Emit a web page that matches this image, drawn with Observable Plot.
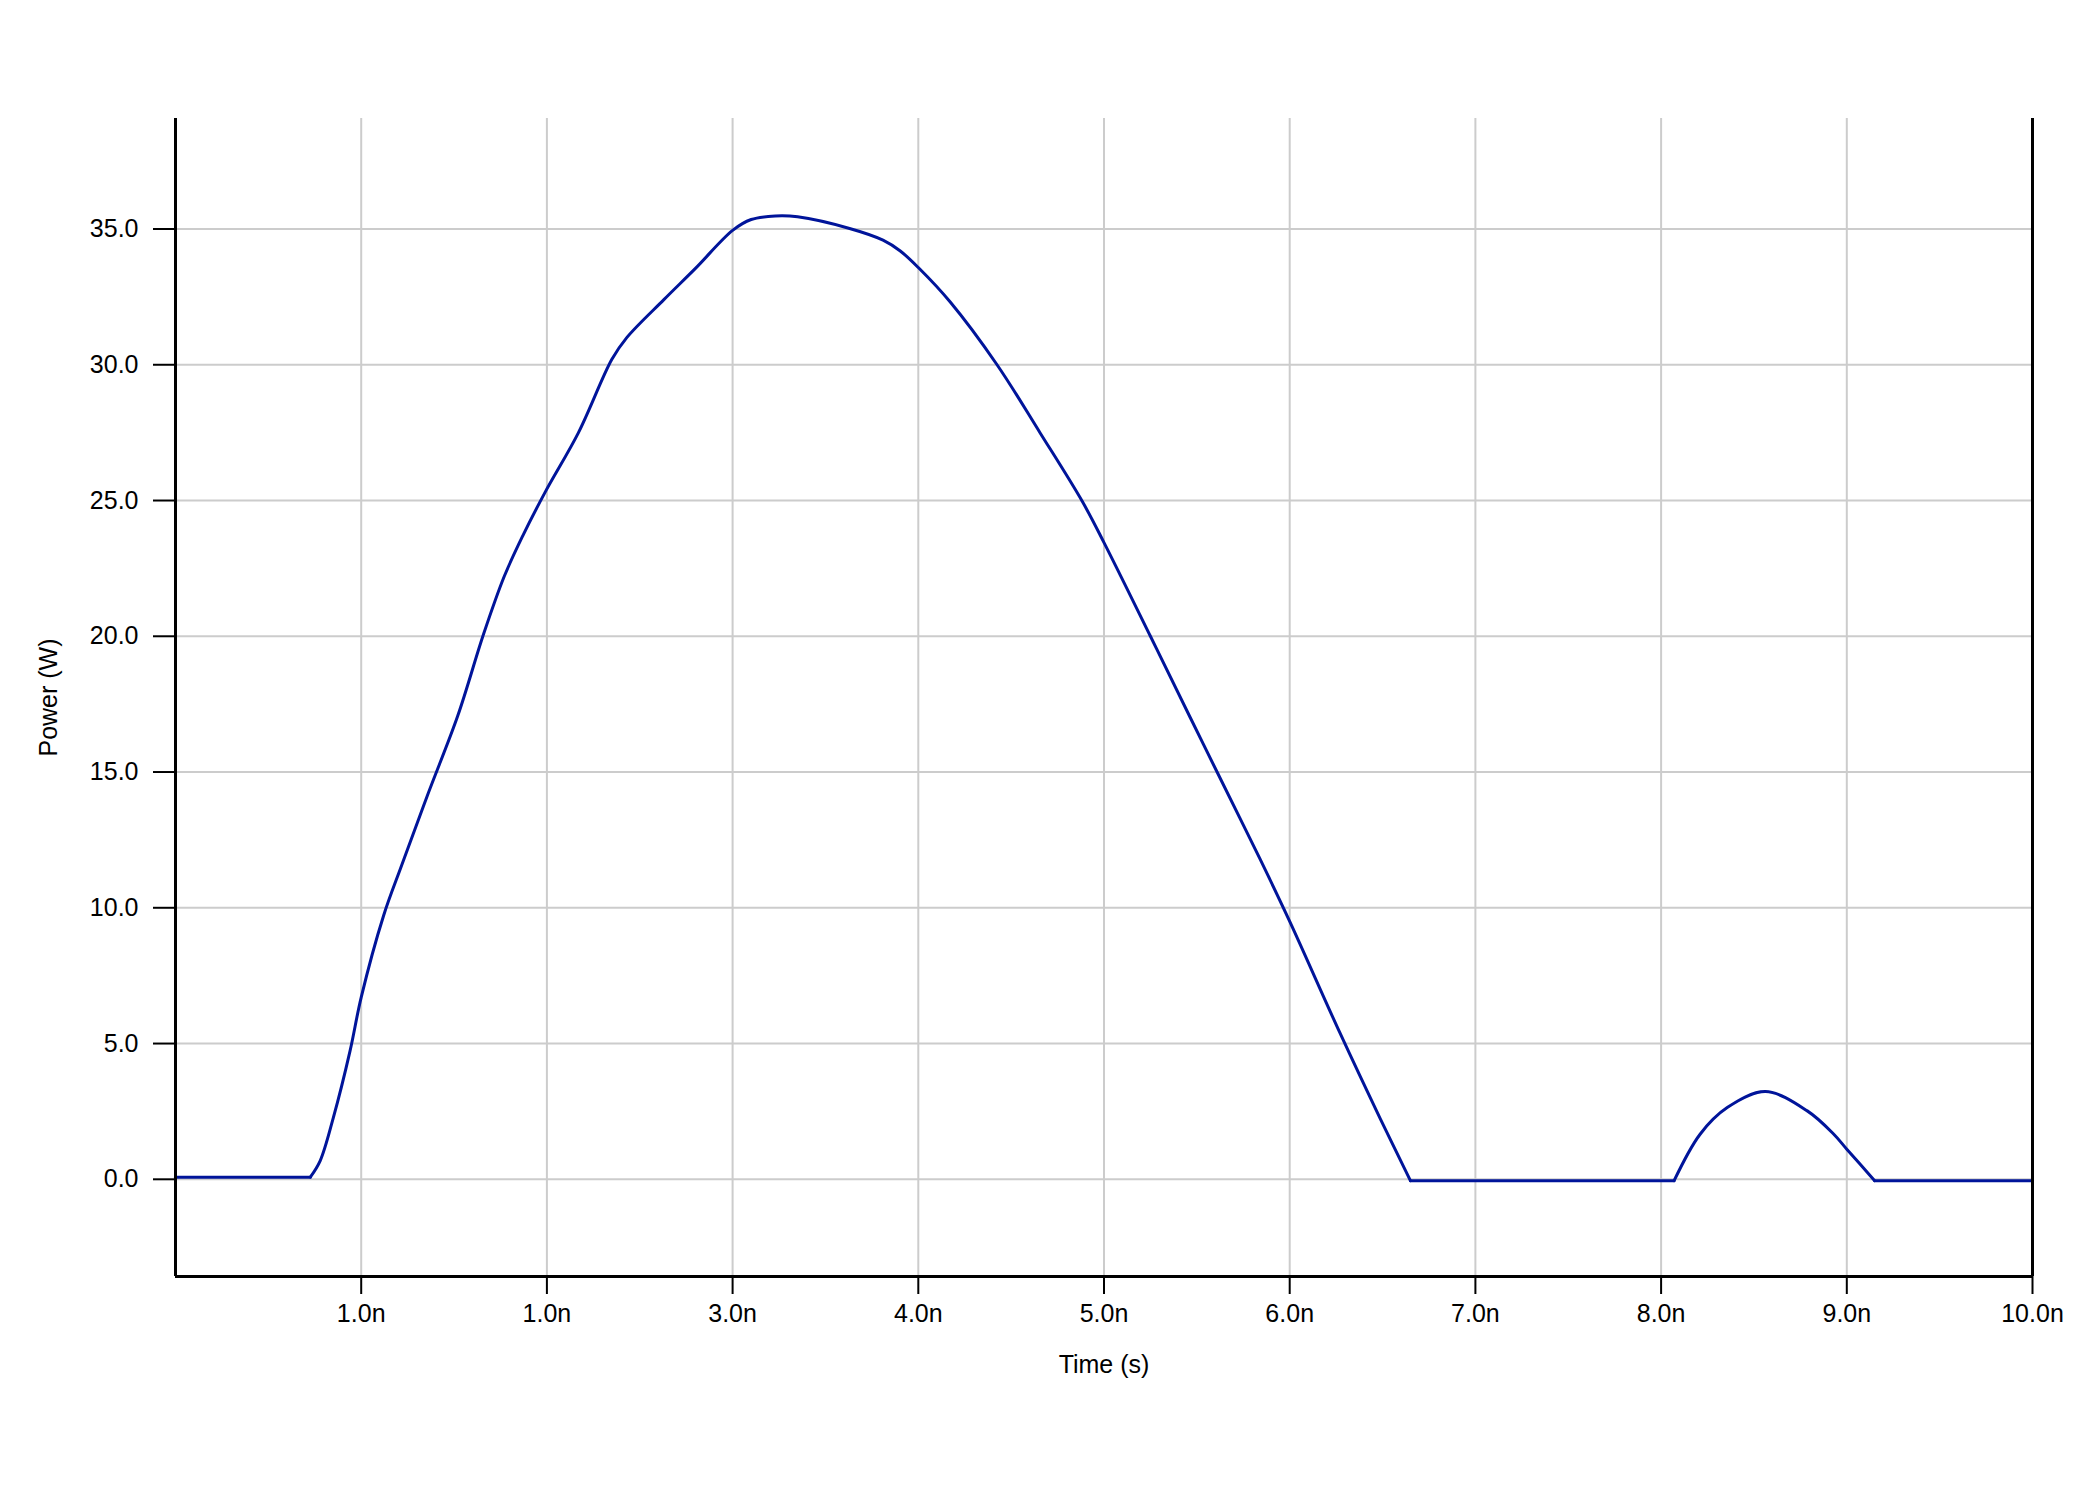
<!DOCTYPE html>
<html>
<head>
<meta charset="utf-8">
<script src="https://cdn.jsdelivr.net/npm/d3@7"></script>
<script src="https://cdn.jsdelivr.net/npm/@observablehq/plot@0.6"></script>
<style>
  html, body { margin: 0; padding: 0; background: #fff; }
  #chart svg { display: block; }
</style>
</head>
<body>
<div id="chart"></div>
<script>
// Time in ns, power in W
const time = [0, 0.726, 0.779, 0.85, 0.94, 1.0, 1.12, 1.22, 1.36, 1.52, 1.66, 1.77, 1.87, 1.99, 2.17, 2.35, 2.43, 2.63, 2.8, 3.0, 3.1, 3.23, 3.35, 3.63, 3.81, 3.903, 4.0, 4.172, 4.424, 4.657, 4.882, 5.0, 5.25, 5.465, 5.609, 5.84, 6.0, 6.27, 6.49, 6.65, 8.07, 8.21, 8.356, 8.562, 8.787, 8.93, 9.0, 9.15, 10];
const power = [0.08, 0.08, 0.68, 2.27, 4.73, 6.7, 9.7, 11.6, 14.2, 17.07, 20.1, 22.2, 23.7, 25.3, 27.5, 30.2, 31.0, 32.4, 33.55, 34.95, 35.35, 35.48, 35.45, 35.02, 34.59, 34.19, 33.58, 32.31, 30.0, 27.48, 24.98, 23.45, 20.0, 17.0, 15.0, 11.8, 9.5, 5.4, 2.2, -0.05, -0.05, 1.66, 2.64, 3.23, 2.52, 1.66, 1.11, -0.05, -0.05];
// times where the trace has a sharp corner (flat parts start/end)
const corners = [0.726, 6.65, 8.07, 9.15];

const xTicks = [1, 2, 3, 4, 5, 6, 7, 8, 9, 10];
const xTickLabels = ["1.0n", "1.0n", "3.0n", "4.0n", "5.0n", "6.0n", "7.0n", "8.0n", "9.0n", "10.0n"];
const yTicks = [0, 5, 10, 15, 20, 25, 30, 35];
const xLabel = "Time (s)";
const yLabel = "Power (W)";

// split the trace into pieces at the corners (corner points shared by both pieces)
const bounds = [time[0], ...corners, time[time.length - 1]];
const rows = [];
for (let s = 0; s < bounds.length - 1; s++) {
  time.forEach((t, i) => {
    if (t >= bounds[s] && t <= bounds[s + 1]) rows.push({t, p: power[i], seg: s});
  });
}
const yDomain = [-3.58, 39.07];

const chart = Plot.plot({
  width: 2100,
  height: 1500,
  marginLeft: 175,
  marginRight: 68,
  marginTop: 118,
  marginBottom: 224,
  style: {fontFamily: "'Liberation Sans', Arial, sans-serif", fontSize: "25px", color: "#000", background: "#fff"},
  x: {domain: [0, 10]},
  y: {domain: yDomain},
  marks: [
    Plot.gridX(xTicks, {stroke: "#cccccc", strokeOpacity: 1, strokeWidth: 2}),
    Plot.gridY(yTicks, {stroke: "#cccccc", strokeOpacity: 1, strokeWidth: 2}),
    Plot.axisX(xTicks, {anchor: "bottom", tickSize: 18, tickPadding: 10, strokeWidth: 2, fontSize: 25,
      tickFormat: (d) => xTickLabels[xTicks.indexOf(d)], label: null}),
    Plot.axisY(yTicks, {anchor: "left", tickSize: 22, tickPadding: 15, strokeWidth: 2, fontSize: 25,
      tickFormat: (d) => d.toFixed(1), label: null}),
    Plot.line(rows, {x: "t", y: "p", z: "seg", stroke: "#00149a", strokeWidth: 3, curve: "catmull-rom"}),
    Plot.ruleX([0, 10], {stroke: "#000", strokeWidth: 3}),
    Plot.ruleY([yDomain[0]], {stroke: "#000", strokeWidth: 3}),
    Plot.text([xLabel], {frameAnchor: "bottom", dy: 88, textAnchor: "middle", lineAnchor: "middle", fontSize: 25, fill: "#000"}),
    Plot.text([yLabel], {frameAnchor: "left", dx: -127, rotate: -90, textAnchor: "middle", lineAnchor: "middle", fontSize: 25, fill: "#000"})
  ]
});
document.getElementById("chart").appendChild(chart);
</script>
</body>
</html>
